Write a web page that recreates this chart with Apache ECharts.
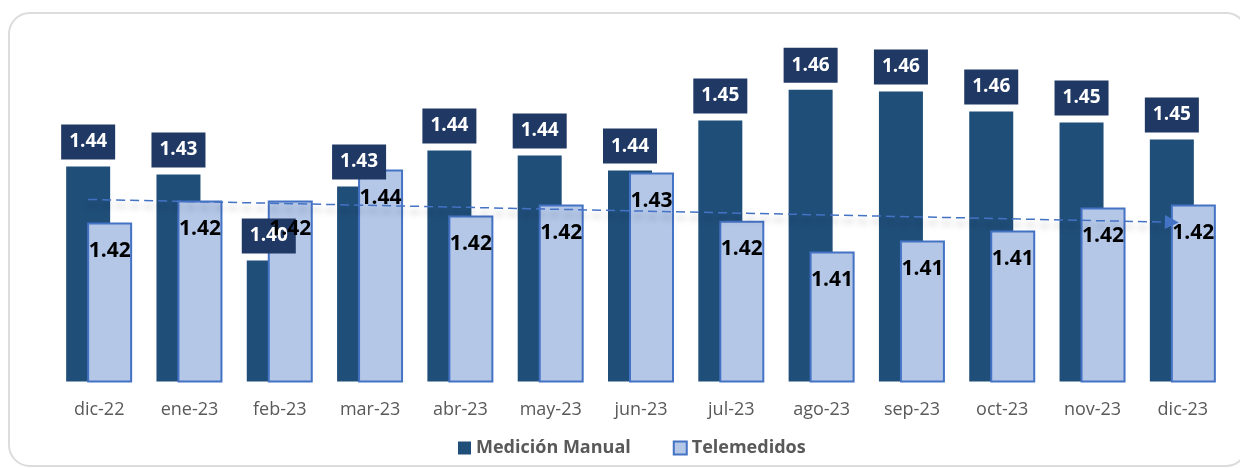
<!DOCTYPE html>
<html>
<head>
<meta charset="utf-8">
<script src="https://cdn.jsdelivr.net/npm/echarts@6/dist/echarts.min.js"></script>
<style>
  html, body { margin: 0; padding: 0; background: #ffffff; }
  #wrap { position: relative; width: 1240px; height: 468px; overflow: hidden; }
  #frame { position: absolute; left: 8px; top: 12px; width: 1240px; height: 455px;
           box-sizing: border-box; border: 2px solid #dcdcdc; border-radius: 22px; }
  #chart { position: absolute; left: 0; top: 0; width: 1240px; height: 468px; }
</style>
</head>
<body>
<div id="wrap">
  <div id="frame"></div>
  <div id="chart"></div>
</div>
<script>
const categories = ['dic-22','ene-23','feb-23','mar-23','abr-23','may-23','jun-23','jul-23','ago-23','sep-23','oct-23','nov-23','dic-23'];
const medicionManual = [1.4368, 1.4339, 1.4026, 1.4295, 1.4426, 1.4408, 1.4353, 1.4535, 1.4647, 1.4641, 1.4568, 1.4528, 1.4466];
const telemedidos = [1.4164, 1.4244, 1.4244, 1.4357, 1.4190, 1.4230, 1.4346, 1.4171, 1.4059, 1.4099, 1.4135, 1.4219, 1.4230];
const seriesNames = ['Medición Manual', 'Telemedidos'];

// linear trend of Telemedidos
const n = telemedidos.length;
const xm = (n - 1) / 2;
const ym = telemedidos.reduce((a, b) => a + b, 0) / n;
let sxy = 0, sxx = 0;
telemedidos.forEach((v, i) => { sxy += (i - xm) * (v - ym); sxx += (i - xm) * (i - xm); });
const slope = sxy / sxx;
const trendStart = ym + slope * (0 - xm);
const trendEnd = ym + slope * (n - 1 - xm);

const zeros = categories.map(() => 0);
const FONT = "'Open Sans', 'Noto Sans', sans-serif";
const chart = echarts.init(document.getElementById('chart'), null, { renderer: 'canvas' });
chart.setOption({
  backgroundColor: 'transparent',
  animation: false,
  textStyle: { fontFamily: FONT },
  grid: { left: 54, right: 12, top: 40, bottom: 86.5 },
  legend: {
    bottom: 6, left: 453,
    itemWidth: 13, itemHeight: 13, itemGap: 42,
    textStyle: { fontFamily: FONT, fontSize: 18, fontWeight: 'bold', color: '#595959' },
    data: [
      { name: seriesNames[0], icon: 'rect' },
      { name: seriesNames[1], icon: 'rect' }
    ]
  },
  xAxis: {
    type: 'category', data: categories,
    axisLine: { show: false }, axisTick: { show: false },
    axisLabel: { fontFamily: FONT, fontSize: 18, color: '#595959', margin: 19 }
  },
  yAxis: {
    type: 'value', min: 1.3586, max: 1.4828, show: false,
    splitLine: { show: false }
  },
  series: [
    {
      name: seriesNames[0], type: 'bar', data: medicionManual,
      stack: 'm', barWidth: 44, z: 2,
      itemStyle: { color: '#1F4E79' },
      markLine: {
        silent: true,
        symbol: ['none', 'triangle'], symbolSize: [14, 14],
        label: { show: false },
        lineStyle: {
          color: '#4472C4', type: [9, 5], width: 1.5,
          shadowColor: 'rgba(0,0,0,0.35)', shadowBlur: 6, shadowOffsetY: 6
        },
        data: [[ { coord: [0, trendStart] }, { coord: [n - 1, trendEnd] } ]]
      }
    },
    {
      name: '_mLabels', type: 'bar', data: zeros,
      stack: 'm', barWidth: 44, z: 4, silent: true,
      itemStyle: { color: 'transparent' },
      label: {
        show: true, position: 'top', distance: 7,
        formatter: p => medicionManual[p.dataIndex].toFixed(2),
        color: '#ffffff', fontFamily: FONT, fontWeight: 'bold', fontSize: 19,
        backgroundColor: '#203864', padding: [6, 8, 6, 8], lineHeight: 23
      }
    },
    {
      name: seriesNames[1], type: 'bar', data: telemedidos,
      stack: 't', barWidth: 45, z: 3,
      itemStyle: { color: '#B4C7E7', borderColor: '#4472C4', borderWidth: 2 }
    },
    {
      name: '_tLabels', type: 'bar', data: zeros,
      stack: 't', barWidth: 45, barGap: '-52.3%', z: 5, silent: true,
      itemStyle: { color: 'transparent' },
      label: {
        show: true, position: 'insideTop', distance: 18,
        formatter: p => telemedidos[p.dataIndex].toFixed(2),
        color: '#000000', fontFamily: FONT, fontWeight: 'bold', fontSize: 21
      }
    }
  ]
});
</script>
</body>
</html>
